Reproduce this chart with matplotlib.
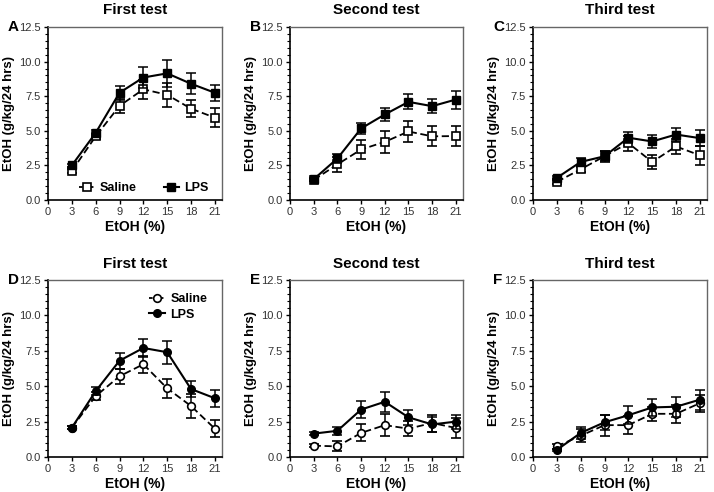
import matplotlib
matplotlib.use("Agg")
import matplotlib.pyplot as plt
from matplotlib.ticker import MultipleLocator, FormatStrFormatter
from matplotlib.lines import Line2D

plt.rcParams['font.family'] = ['Liberation Sans', 'DejaVu Sans']

x = [3, 6, 9, 12, 15, 18, 21]
xticks = [0, 3, 6, 9, 12, 15, 18, 21]

# Panel A-C (squares), D-F (circles)
sal_A = [2.1, 4.6, 6.8, 8.0, 7.6, 6.6, 5.95]
sal_A_err = [0.15, 0.2, 0.53, 0.7, 0.85, 0.63, 0.68]
lps_A = [2.5, 4.85, 7.75, 8.85, 9.15, 8.4, 7.75]
lps_A_err = [0.1, 0.2, 0.5, 0.77, 0.96, 0.75, 0.58]

sal_B = [1.45, 2.57, 3.65, 4.2, 4.95, 4.6, 4.62]
sal_B_err = [0.1, 0.55, 0.7, 0.8, 0.78, 0.72, 0.72]
lps_B = [1.5, 3.0, 5.17, 6.18, 7.09, 6.78, 7.26]
lps_B_err = [0.1, 0.35, 0.4, 0.5, 0.55, 0.5, 0.65]

sal_C = [1.31, 2.22, 3.16, 4.11, 2.75, 3.87, 3.23]
sal_C_err = [0.15, 0.2, 0.4, 0.55, 0.5, 0.55, 0.7]
lps_C = [1.6, 2.75, 3.16, 4.5, 4.23, 4.73, 4.47]
lps_C_err = [0.1, 0.3, 0.35, 0.4, 0.5, 0.45, 0.57]

sal_D = [2.07, 4.3, 5.7, 6.55, 4.85, 3.6, 2.0]
sal_D_err = [0.1, 0.3, 0.55, 0.6, 0.65, 0.85, 0.6]
lps_D = [2.07, 4.65, 6.8, 7.7, 7.4, 4.8, 4.15]
lps_D_err = [0.1, 0.3, 0.55, 0.66, 0.8, 0.55, 0.6]

sal_E = [0.8, 0.75, 1.7, 2.25, 2.0, 2.4, 2.05]
sal_E_err = [0.1, 0.35, 0.6, 0.8, 0.55, 0.6, 0.7]
lps_E = [1.65, 1.85, 3.35, 3.9, 2.8, 2.3, 2.5]
lps_E_err = [0.1, 0.3, 0.6, 0.7, 0.55, 0.5, 0.5]

sal_F = [0.75, 1.5, 2.25, 2.25, 3.05, 3.05, 3.8]
sal_F_err = [0.15, 0.45, 0.75, 0.65, 0.5, 0.65, 0.6]
lps_F = [0.5, 1.7, 2.45, 2.95, 3.5, 3.55, 4.05]
lps_F_err = [0.1, 0.45, 0.55, 0.65, 0.6, 0.7, 0.7]

titles = ["First test", "Second test", "Third test"]
letters = ["A", "B", "C", "D", "E", "F"]
series = [
    (sal_A, sal_A_err, lps_A, lps_A_err),
    (sal_B, sal_B_err, lps_B, lps_B_err),
    (sal_C, sal_C_err, lps_C, lps_C_err),
    (sal_D, sal_D_err, lps_D, lps_D_err),
    (sal_E, sal_E_err, lps_E, lps_E_err),
    (sal_F, sal_F_err, lps_F, lps_F_err),
]

W, H = 714, 492
fig = plt.figure(figsize=(W / 100, H / 100), dpi=100)

cols = [(48, 222), (290, 463), (533, 707)]
rows = [(27, 200), (280, 457)]

for i in range(6):
    r, c = divmod(i, 3)
    x0, x1 = cols[c]
    y0, y1 = rows[r]
    ax = fig.add_axes([x0 / W, 1 - y1 / H, (x1 - x0) / W, (y1 - y0) / H])
    sal, sal_err, lps, lps_err = series[i]
    mk = 's' if r == 0 else 'o'
    ms = 6 if r == 0 else 5.5
    ax.errorbar(x, sal, yerr=sal_err, color='black', ls=(0, (4, 2)), lw=1.3,
                marker=mk, ms=ms, mfc='white', mec='black', mew=1.2,
                capsize=3.5, elinewidth=1.1, capthick=1.1, zorder=3)
    ax.errorbar(x, lps, yerr=lps_err, color='black', ls='-', lw=1.5,
                marker=mk, ms=ms, mfc='black', mec='black',
                capsize=3.5, elinewidth=1.1, capthick=1.1, zorder=4)
    ax.set_xlim(0, 21.9)
    ax.set_ylim(0, 12.5)
    ax.set_xticks(xticks)
    ax.yaxis.set_major_locator(MultipleLocator(2.5))
    ax.yaxis.set_minor_locator(MultipleLocator(0.5))
    ax.yaxis.set_major_formatter(FormatStrFormatter('%.1f'))
    ax.tick_params(axis='both', which='major', labelsize=8, length=3, width=1,
                   colors='black', labelcolor='#333333', pad=2)
    ax.tick_params(axis='y', which='minor', length=2, width=0.8)
    for s in ['left', 'bottom']:
        ax.spines[s].set_linewidth(1.2)
        ax.spines[s].set_color('black')
    for s in ['top', 'right']:
        ax.spines[s].set_linewidth(1.0)
        ax.spines[s].set_color('#666666')
    ax.set_xlabel('EtOH (%)', fontsize=10, fontweight='bold', labelpad=2)
    ax.set_ylabel('EtOH (g/kg/24 hrs)', fontsize=9.5, fontweight='bold', labelpad=3)
    ax.set_title(titles[c], fontsize=11, fontweight='bold', pad=9)
    ax.text(-0.23, 1.0, letters[i], transform=ax.transAxes, fontsize=11,
            fontweight='bold', ha='left', va='center')
    handles = [
        Line2D([], [], color='black', ls=(0, (2, 1)), lw=1.3, marker=mk, ms=ms,
               mfc='white', mec='black', mew=1.2),
        Line2D([], [], color='black', ls='-', lw=1.5, marker=mk, ms=ms,
               mfc='black', mec='black'),
    ]
    if i == 0:
        ax.legend(handles, ['Saline', 'LPS'], loc='lower center', ncol=2,
                  frameon=False, prop={'weight': 'bold', 'size': 9},
                  handlelength=1.2, columnspacing=2.2, handletextpad=0.4,
                  bbox_to_anchor=(0.55, -0.03))
    if i == 3:
        ax.legend(handles, ['Saline', 'LPS'], loc='upper right', frameon=False,
                  prop={'weight': 'bold', 'size': 9}, handlelength=1.3,
                  handletextpad=0.4, labelspacing=0.3, bbox_to_anchor=(0.98, 0.99))

fig.savefig('out.png', dpi=100)
